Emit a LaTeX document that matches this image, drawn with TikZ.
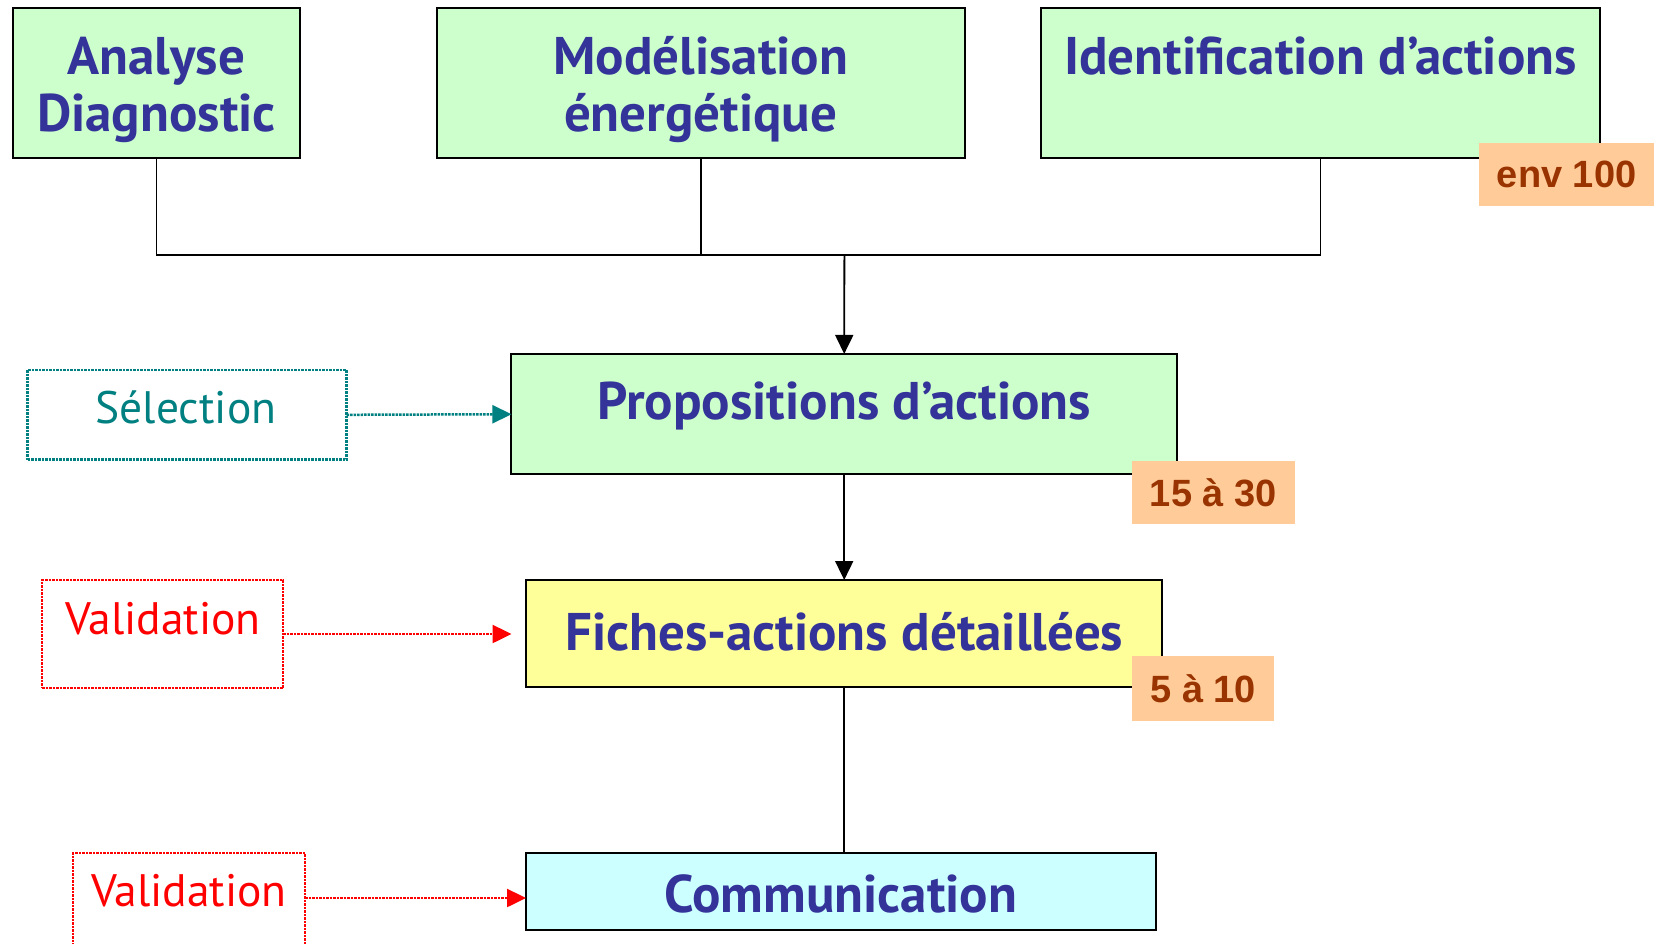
\documentclass[tikz,border=0pt]{standalone}
\usepackage{fontspec}
\setmainfont{PT Sans}
\newfontfamily\numfont{Liberation Sans}
\usetikzlibrary{arrows.meta}
\definecolor{navy}{HTML}{333399}
\definecolor{boxgreen}{HTML}{CCFFCC}
\definecolor{boxyellow}{HTML}{FFFF99}
\definecolor{boxcyan}{HTML}{CCFFFF}
\definecolor{tagfill}{HTML}{FFCC99}
\definecolor{tagtext}{HTML}{993300}
\definecolor{teal}{HTML}{008080}
\definecolor{vred}{HTML}{FF0000}
\begin{document}
\begin{tikzpicture}[x=1pt,y=-1pt,
  box/.style={draw=black,line width=2pt,inner sep=0pt,outer sep=0pt},
  maintext/.style={text=navy,font=\fontsize{53}{57}\selectfont\bfseries,align=center,inner sep=0pt},
  tag/.style={fill=tagfill,inner sep=0pt,outer sep=0pt,text=tagtext,font=\numfont\fontsize{38}{40}\selectfont\bfseries},
  sidebox/.style={densely dotted,line width=2.5pt,inner sep=0pt,outer sep=0pt},
  sidetext/.style={font=\fontsize{45.5}{48}\selectfont,inner sep=0pt},
  conn/.style={line width=1.8pt,black},
  tip/.style={-{Triangle[length=19pt,width=18pt]}}
]
\useasboundingbox (0,0) rectangle (1657,943);

% top boxes
\node[box,fill=boxgreen,minimum width=287pt,minimum height=150pt] (ana) at (156.4,82.5) {};
\node[maintext] (anat) at (156.4,90) {Analyse\\Diagnostic};
\node[box,fill=boxgreen,minimum width=528pt,minimum height=150pt] (mod) at (700.7,82.5) {};
\node[maintext] (modt) at (700.7,90) {Modélisation\\énergétique};
\node[box,fill=boxgreen,minimum width=559pt,minimum height=150pt] (ide) at (1320.5,82.5) {};
\node[maintext] (idet) at (1320.5,56) {Identification d’actions};
\node[tag,minimum width=174.5pt,minimum height=63.3pt] (env) at (1566.7,174.4) {env 100};

% main chain
\node[box,fill=boxgreen,minimum width=665.5pt,minimum height=120.5pt] (prop) at (844.2,414.2) {};
\node[maintext] (propt) at (844.2,406) {Propositions d’actions};
\node[tag,minimum width=162.6pt,minimum height=63.2pt] (t1530) at (1213.3,492.4) {15 à 30};

\node[box,fill=boxyellow,minimum width=636.5pt,minimum height=107pt] (fich) at (844.2,633.5) {};
\node[maintext] (ficht) at (844.2,632) {Fiches-actions détaillées};
\node[tag,minimum width=142.5pt,minimum height=64.7pt] (t510) at (1203.2,688.4) {5 à 10};

\node[box,fill=boxcyan,minimum width=630pt,minimum height=77pt] (comm) at (841,891.5) {};
\node[maintext] (commt) at (841,894) {Communication};

% side boxes
\node[sidebox,draw=teal,minimum width=319pt,minimum height=89.7pt] (sel) at (187,414.8) {};
\node[sidetext,text=teal] (selt) at (186,407) {Sélection};
\node[sidebox,draw=vred,minimum width=241pt,minimum height=108pt] (val1) at (162.5,634) {};
\node[sidetext,text=vred] (val1t) at (163,619) {Validation};
\node[sidebox,draw=vred,minimum width=232pt,minimum height=104pt] (val2) at (189,905) {};
\node[sidetext,text=vred] (val2t) at (189,891) {Validation};

% connectors
\coordinate (join) at (844.4,254.7);
\draw[conn] (ana.south) |- (join);
\draw[conn] (mod.south) -- (mod.south |- join);
\draw[conn] (ide.south) |- (join);
\draw[conn,tip] (join) -- (prop.north);
\draw[conn,tip] (prop.south) -- (fich.north);
\draw[conn] (fich.south) -- (fich.south |- comm.north);

\coordinate (v1end) at (511.5,634);
\coordinate (v2start) at (305,898);
\draw[densely dotted,line width=2.5pt,teal,tip] (sel.east) -- (prop.west);
\draw[densely dotted,line width=2.5pt,vred,tip] (val1.east |- v1end) -- (v1end);
\draw[densely dotted,line width=2.5pt,vred,tip] (v2start) -- (comm.west |- v2start);
\end{tikzpicture}
\end{document}
